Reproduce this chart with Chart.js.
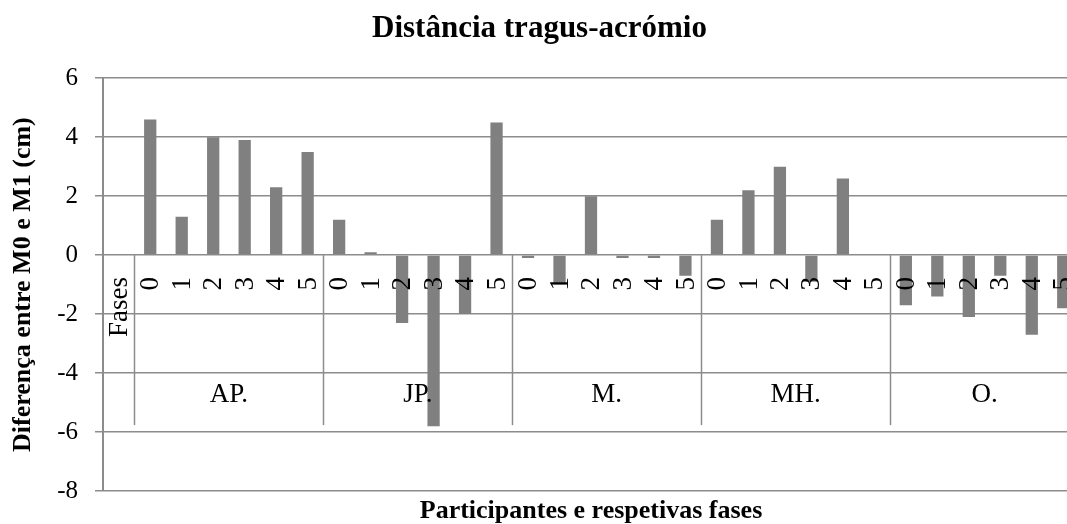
<!DOCTYPE html>
<html>
<head>
<meta charset="utf-8">
<style>
  html, body { margin: 0; padding: 0; overflow: hidden; background: #fff; }
  #wrap { width: 1079px; height: 524px; }
</style>
<script src="https://cdn.jsdelivr.net/npm/chart.js@4.4.0/dist/chart.umd.min.js"></script>
</head>
<body>
<div id="wrap"><canvas id="tragusChart"></canvas></div>
<script>
// Values
var participants = ['AP.', 'JP.', 'M.', 'MH.', 'O.'];
var phases = ['0', '1', '2', '3', '4', '5'];
var firstLabel = 'Fases';
var apValues = [4.6, 1.3, 4.0, 3.9, 2.3, 3.5];
var jpValues = [1.2, 0.1, -2.3, -5.8, -2.0, 4.5];
var mValues = [-0.1, -1.0, 2.0, -0.1, -0.1, -0.7];
var mhValues = [1.2, 2.2, 3.0, -0.9, 2.6, 0];
var oValues = [-1.7, -1.4, -2.1, -0.7, -2.7, -1.8];
var yTicks = [-8, -6, -4, -2, 0, 2, 4, 6];

var serif = "'Liberation Serif', 'Times New Roman', serif";
var gridColor = '#8c8c8c';

document.addEventListener('DOMContentLoaded', function () {
    var groups = [apValues, jpValues, mValues, mhValues, oValues];

    // first column is the "Fases" heading, then 6 phases per participant
    var labels = [firstLabel];
    var values = [null];
    groups.forEach(function (g, gi) {
        g.forEach(function (v, pi) {
            labels.push(participants[gi] + ' ' + phases[pi]);
            values.push(v);
        });
    });

    // draws the two-level category table under the zero line
    var categoryTable = {
        id: 'categoryTable',
        afterDatasetsDraw: function (chart) {
            var ctx = chart.ctx;
            var xs = chart.scales.x;
            var ys = chart.scales.y;
            var y0 = ys.getPixelForValue(0);
            ctx.save();

            ctx.strokeStyle = gridColor;
            ctx.lineWidth = 1.5;
            for (var g = 0; g <= participants.length; g++) {
                var bx = Math.round(xs.getPixelForValue(g * phases.length + 0.5)) + 0.5;
                ctx.beginPath();
                ctx.moveTo(bx, y0);
                ctx.lineTo(bx, y0 + 170);
                ctx.stroke();
            }

            ctx.fillStyle = '#000';
            ctx.font = '27px ' + serif;
            ctx.textAlign = 'right';
            ctx.textBaseline = 'middle';
            for (var i = 0; i < labels.length; i++) {
                var txt = i === 0 ? firstLabel : phases[(i - 1) % phases.length];
                ctx.save();
                ctx.translate(xs.getPixelForValue(i) + 1, y0 + 22);
                ctx.rotate(-Math.PI / 2);
                ctx.fillText(txt, 0, 0);
                ctx.restore();
            }

            ctx.textAlign = 'center';
            for (var p = 0; p < participants.length; p++) {
                var a = xs.getPixelForValue(p * phases.length + 0.5);
                var b = xs.getPixelForValue((p + 1) * phases.length + 0.5);
                ctx.fillText(participants[p], (a + b) / 2, y0 + 140);
            }
            ctx.restore();
        }
    };

    var ctx = document.getElementById('tragusChart').getContext('2d');
    var myChart = new Chart(ctx, {
        type: 'bar',
        data: {
            labels: labels,
            datasets: [{
                label: 'Diferença',
                data: values,
                backgroundColor: '#808080',
                borderWidth: 0,
                barPercentage: 0.39,
                categoryPercentage: 1
            }]
        },
        options: {
            responsive: true,
            maintainAspectRatio: false,
            animation: false,
            layout: { padding: 0 },
            plugins: {
                legend: { display: false },
                tooltip: { enabled: false },
                title: {
                    display: true,
                    text: 'Distância tragus-acrómio',
                    color: '#000',
                    font: { family: serif, size: 31, weight: 'bold', lineHeight: 1.2 },
                    padding: { top: 10, bottom: 31 }
                }
            },
            scales: {
                x: {
                    ticks: { display: false },
                    grid: { display: false },
                    border: { display: false },
                    title: {
                        display: true,
                        text: 'Participantes e respetivas fases',
                        color: '#000',
                        font: { family: serif, size: 26, weight: 'bold', lineHeight: 1 },
                        padding: 0
                    },
                    afterFit: function (scale) { scale.height = 33; }
                },
                y: {
                    min: -8,
                    max: 6,
                    afterBuildTicks: function (scale) {
                        scale.ticks = yTicks.map(function (v) { return { value: v }; });
                    },
                    ticks: {
                        color: '#000',
                        padding: 17,
                        font: { family: serif, size: 25 }
                    },
                    grid: {
                        color: gridColor,
                        lineWidth: 1.5,
                        tickLength: 8
                    },
                    border: { color: gridColor, width: 2 },
                    title: {
                        display: true,
                        text: 'Diferença entre M0 e M1 (cm)',
                        color: '#000',
                        font: { family: serif, size: 26, weight: 'bold', lineHeight: 1 },
                        padding: { top: 10, bottom: 0 }
                    },
                    afterFit: function (scale) { scale.width = 103; }
                }
            }
        },
        plugins: [categoryTable]
    });
});
</script>
</body>
</html>
